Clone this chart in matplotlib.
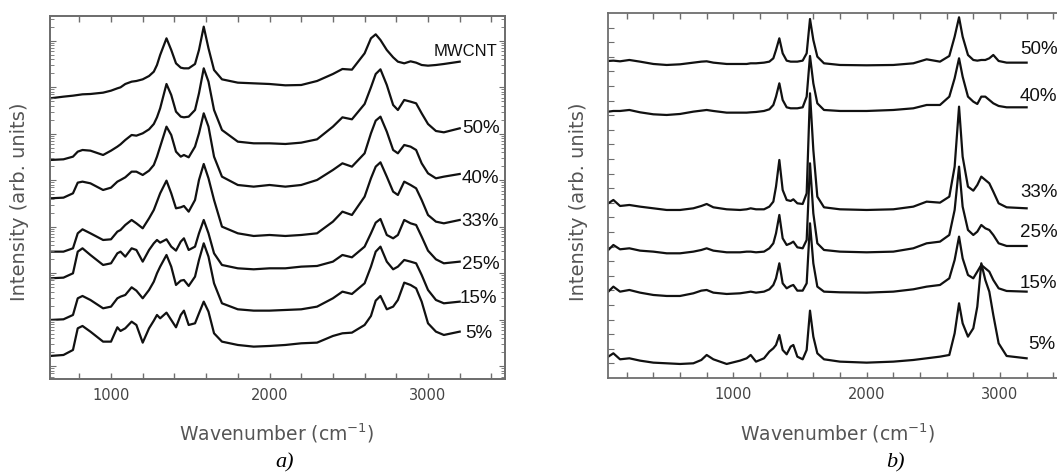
import numpy as np
import matplotlib
matplotlib.use("Agg")
import matplotlib.pyplot as plt
from matplotlib.ticker import FixedLocator, MultipleLocator, LogLocator, NullFormatter

# ---- panel a) : wavenumber grid (cm-1) and intensities (arb. units, stacked)
wn_a = [615, 700, 760, 790, 820, 870, 950, 1000, 1040, 1060, 1090, 1130, 1160, 1200,
        1240, 1270, 1290, 1310, 1350, 1380, 1410, 1440, 1460, 1490, 1530, 1555, 1585,
        1615, 1650, 1700, 1800, 1900, 2000, 2100, 2200, 2300, 2400, 2460, 2520, 2600,
        2640, 2670, 2700, 2740, 2780, 2810, 2850, 2890, 2925, 2960, 3000, 3050, 3100, 3200]

mwcnt_a = [843, 848, 851, 853, 855, 856, 860, 866, 873, 876, 886, 893, 895, 900,
           910, 923, 943, 973, 1023, 988, 948, 935, 933, 933, 946, 988, 1058,
           993, 928, 900, 890, 888, 886, 882, 883, 895, 916, 931, 929, 978,
           1023, 1035, 1018, 988, 966, 953, 948, 954, 950, 943, 941, 943, 946, 953]
p50_a = [658, 660, 668, 683, 688, 686, 673, 686, 698, 705, 718, 733, 731, 738,
         750, 766, 786, 813, 886, 853, 803, 788, 786, 788, 808, 858, 933,
         893, 808, 748, 713, 708, 708, 706, 710, 720, 758, 786, 780, 826,
         876, 916, 930, 883, 823, 808, 838, 833, 828, 798, 766, 745, 741, 753]
p40_a = [543, 545, 558, 590, 593, 588, 568, 575, 593, 598, 606, 623, 623, 613,
         626, 643, 668, 698, 758, 733, 683, 668, 673, 666, 698, 738, 798,
         758, 668, 608, 583, 578, 583, 578, 583, 598, 628, 648, 638, 678,
         738, 776, 788, 743, 688, 678, 703, 698, 688, 648, 618, 603, 608, 616]
p33_a = [383, 383, 393, 438, 450, 438, 418, 420, 443, 448, 463, 478, 468, 453,
         483, 508, 533, 558, 596, 558, 513, 516, 520, 503, 538, 598, 646,
         603, 538, 458, 438, 430, 433, 430, 433, 438, 473, 503, 493, 548,
         603, 638, 651, 608, 563, 553, 593, 583, 573, 538, 493, 473, 468, 478]
p25_a = [303, 305, 318, 383, 393, 373, 343, 348, 378, 383, 368, 393, 388, 353,
         388, 408, 418, 410, 420, 398, 386, 413, 423, 388, 398, 438, 478,
         438, 378, 343, 333, 330, 333, 333, 338, 340, 353, 373, 366, 398,
         438, 470, 481, 433, 423, 433, 478, 468, 463, 428, 386, 360, 348, 353]
p15_a = [178, 180, 193, 243, 250, 238, 213, 218, 243, 248, 253, 276, 266, 243,
         268, 293, 318, 338, 373, 338, 283, 296, 298, 280, 308, 358, 408,
         368, 288, 228, 210, 206, 206, 208, 210, 218, 243, 263, 256, 288,
         338, 383, 398, 353, 330, 338, 358, 353, 348, 313, 268, 238, 228, 233]
p5_a = [70, 73, 88, 153, 160, 143, 113, 113, 156, 145, 153, 173, 163, 110,
        153, 176, 193, 183, 200, 178, 156, 193, 206, 163, 168, 198, 233,
        203, 138, 113, 103, 98, 100, 103, 108, 110, 130, 138, 140, 163,
        190, 236, 250, 210, 218, 238, 290, 283, 273, 233, 168, 143, 133, 143]

labels_a = ["MWCNT", "50%", "40%", "33%", "25%", "15%", "5%"]

# ---- panel b)
wn_b = [62, 100, 150, 220, 300, 400, 500, 600, 700, 760, 800, 850, 950, 1050, 1100,
        1130, 1170, 1230, 1270, 1300, 1320, 1345, 1370, 1400, 1430, 1450, 1480, 1520,
        1550, 1575, 1600, 1630, 1680, 1800, 2000, 2200, 2350, 2450, 2550, 2620, 2660,
        2693, 2720, 2760, 2800, 2830, 2860, 2890, 2920, 2950, 2990, 3050, 3200]

p50_b = [952, 953, 951, 955, 950, 943, 940, 942, 947, 950, 951, 947, 943, 943, 943,
         945, 945, 947, 950, 960, 985, 1020, 975, 953, 950, 950, 950, 953,
         975, 1078, 1015, 965, 945, 940, 939, 940, 945, 957, 950, 967, 1025,
         1083, 1025, 970, 955, 953, 955, 955, 960, 970, 952, 947, 947]
p40_b = [800, 802, 802, 805, 798, 792, 790, 793, 800, 803, 805, 802, 797, 797, 797,
         798, 799, 802, 807, 820, 845, 885, 835, 813, 810, 810, 810, 813,
         845, 967, 885, 825, 805, 802, 802, 805, 810, 820, 820, 845, 900,
         960, 905, 845, 830, 823, 845, 845, 835, 825, 817, 813, 813]
p33_b = [525, 535, 517, 520, 515, 510, 505, 505, 510, 517, 523, 513, 507, 505, 507,
         510, 507, 507, 515, 530, 575, 655, 565, 535, 532, 537, 525, 523,
         555, 855, 685, 545, 513, 507, 505, 507, 515, 530, 527, 545, 635,
         815, 665, 575, 563, 580, 605, 595, 585, 560, 525, 513, 510]
p25_b = [385, 400, 387, 390, 383, 380, 375, 375, 380, 385, 390, 383, 378, 378, 380,
         380, 378, 380, 390, 405, 435, 490, 420, 400, 405, 410, 393, 390,
         415, 645, 495, 405, 385, 380, 378, 380, 390, 405, 410, 430, 505,
         635, 515, 445, 430, 440, 460, 450, 445, 430, 405, 397, 397]
p15_b = [260, 275, 260, 265, 257, 250, 247, 247, 255, 263, 265, 257, 253, 255, 258,
         260, 257, 260, 267, 280, 300, 345, 285, 270, 277, 280, 263, 263,
         285, 465, 345, 275, 260, 258, 257, 260, 267, 275, 280, 300, 355,
         425, 360, 310, 300, 320, 340, 330, 320, 295, 270, 262, 260]
p5_b = [65, 75, 57, 60, 53, 47, 45, 43, 45, 55, 70, 57, 43, 53, 60,
        70, 50, 60, 80, 90, 100, 130, 85, 72, 95, 100, 65, 57,
        85, 203, 125, 75, 57, 50, 47, 50, 55, 60, 65, 70, 135,
        225, 165, 125, 150, 215, 345, 295, 260, 190, 105, 67, 60]

labels_b = ["50%", "40%", "33%", "25%", "15%", "5%"]

series_a = [mwcnt_a, p50_a, p40_a, p33_a, p25_a, p15_a, p5_a]
series_b = [p50_b, p40_b, p33_b, p25_b, p15_b, p5_b]

# label anchors (wavenumber, intensity)
pos_a = [(3033, 983), (3213, 753), (3213, 603), (3213, 473), (3213, 343), (3202, 243), (3233, 138)]
pos_b = [(3150, 985), (3150, 845), (3150, 556), (3150, 436), (3150, 285), (3210, 100)]

spine_col = "#6e6e6e"
text_col = "#555555"

fig = plt.figure(figsize=(10.57, 4.72), dpi=100)
ax_a = fig.add_axes([0.0473, 0.1964, 0.4308, 0.7697])
ax_b = fig.add_axes([0.5755, 0.1985, 0.4336, 0.7733])


def style(ax):
    for s in ax.spines.values():
        s.set_color(spine_col)
        s.set_linewidth(1.3)
    ax.xaxis.set_major_locator(FixedLocator([1000, 2000, 3000]))
    ax.xaxis.set_minor_locator(MultipleLocator(200))
    ax.tick_params(axis="x", which="both", direction="in", top=True, bottom=True,
                   colors=spine_col, labelcolor="#444444", labelsize=10.5, pad=6)
    ax.tick_params(axis="x", which="major", length=4.5, width=1)
    ax.tick_params(axis="x", which="minor", length=4, width=1)
    ax.set_xlabel("Wavenumber (cm$^{-1}$)", fontsize=13.5, color=text_col)
    ax.set_ylabel("Intensity (arb. units)", fontsize=14, color=text_col)
    ax.xaxis.label.set_va("center")
    ax.yaxis.label.set_va("center")


# panel a
for y in series_a:
    ax_a.plot(wn_a, y, color="#111111", lw=1.6)
for lab, (x, y) in zip(labels_a, pos_a):
    ax_a.text(x, y, lab, fontsize=12 if lab == "MWCNT" else 13.5, family="Liberation Sans",
              ha="left", va="center", color="#111111")
ax_a.set_xlim(615, 3488)
ax_a.set_ylim(0, 1090)
ax_a.set_yticks([])
style(ax_a)
ax_a.xaxis.set_label_coords(0.4985, -0.1486)
ax_a.yaxis.set_label_coords(-0.0659, 0.4894)

# log-style tick marks on both vertical spines of panel a
ax_t = ax_a.twinx()
ax_t.set_yscale("log")
ax_t.set_ylim(10 ** -0.282, 10 ** 7.531)
ax_t.yaxis.set_major_locator(LogLocator(base=10, numticks=20))
ax_t.yaxis.set_minor_locator(LogLocator(base=10, subs=np.arange(2, 10), numticks=20))
ax_t.yaxis.set_major_formatter(NullFormatter())
ax_t.yaxis.set_minor_formatter(NullFormatter())
ax_t.tick_params(axis="y", which="both", direction="in", left=True, right=True,
                 labelleft=False, labelright=False, colors=spine_col)
ax_t.tick_params(axis="y", which="major", length=4.5)
ax_t.tick_params(axis="y", which="minor", length=3)
for s in ax_t.spines.values():
    s.set_color(spine_col)
    s.set_linewidth(1.3)

# panel b
for y in series_b:
    ax_b.plot(wn_b, y, color="#111111", lw=1.6)
for lab, (x, y) in zip(labels_b, pos_b):
    ax_b.text(x, y, lab, fontsize=13.5, family="Liberation Sans",
              ha="left", va="center", color="#111111", clip_on=False)
ax_b.set_xlim(62, 3500)
ax_b.set_ylim(0, 1095)
ax_b.yaxis.set_major_locator(FixedLocator(np.arange(45, 1095, 43.8)))
ax_b.yaxis.set_major_formatter(NullFormatter())
ax_b.tick_params(axis="y", direction="in", length=4, colors=spine_col, left=True, right=False)
style(ax_b)
ax_b.xaxis.set_label_coords(0.5012, -0.1499)
ax_b.yaxis.set_label_coords(-0.0646, 0.483)

fig.text(285 / 1057, 1 - 463 / 472, "a)", ha="center", va="center", fontsize=16,
         family="Liberation Serif", style="italic")
fig.text(895 / 1057, 1 - 463 / 472, "b)", ha="center", va="center", fontsize=16,
         family="Liberation Serif", style="italic")

fig.savefig("out.png", dpi=100)
